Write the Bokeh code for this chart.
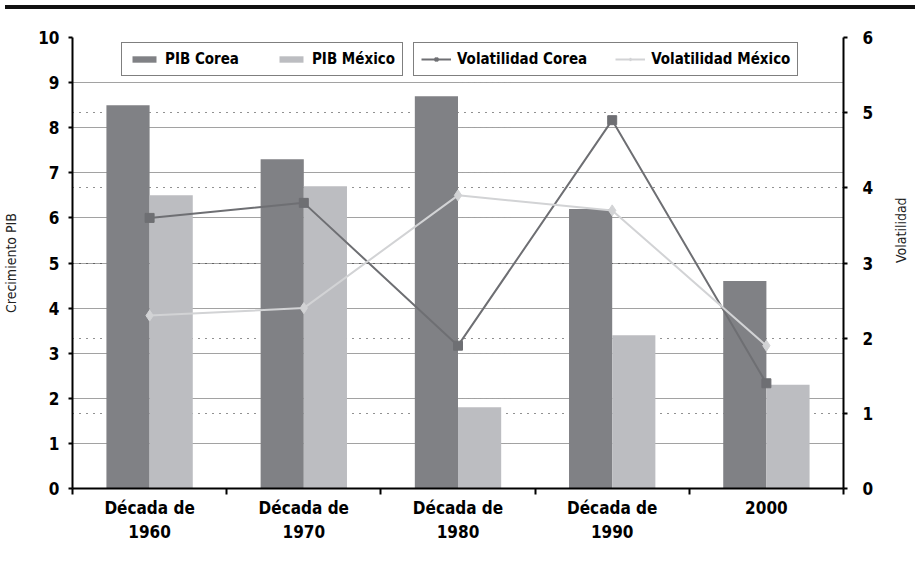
import math
from bokeh.plotting import figure
from bokeh.models import (Range1d, LinearAxis, FixedTicker, Grid, Legend, LegendItem,
                          Div, ColumnDataSource)
from bokeh.layouts import column
from bokeh.embed import file_html
from bokeh.resources import INLINE

# ---- data ----
categories = ["Década de\n1960", "Década de\n1970", "Década de\n1980", "Década de\n1990", "2000"]
pib_corea = [8.5, 7.3, 8.7, 6.2, 4.6]
pib_mexico = [6.5, 6.7, 1.8, 3.4, 2.3]
vol_corea = [3.6, 3.8, 1.9, 4.9, 1.4]
vol_mexico = [2.3, 2.4, 3.9, 3.7, 1.9]
left_ticks = list(range(0, 11))
right_ticks = list(range(0, 7))

FONT = "DejaVu Sans Condensed, Liberation Sans, sans-serif"
C_KOR_BAR = "#808185"
C_MEX_BAR = "#bcbdc1"
C_KOR_LINE = "#6e6f73"
C_MEX_LINE = "#d2d3d5"

n = len(categories)
idx = list(range(n))
bw = 0.28
FW, FH = 771, 451

src = ColumnDataSource(dict(
    x=idx,
    x_kor=[i - bw / 2 for i in idx],
    x_mex=[i + bw / 2 for i in idx],
    pib_corea=pib_corea, pib_mexico=pib_mexico,
    vol_corea=vol_corea, vol_mexico=vol_mexico,
))

p = figure(frame_width=FW, frame_height=FH, x_range=Range1d(-0.5, n - 0.5), y_range=Range1d(0, 10),
           output_backend="svg", toolbar_location=None,
           min_border_left=67, min_border_right=72, min_border_top=23, min_border_bottom=62)
p.outline_line_color = None
p.background_fill_color = "white"
p.extra_y_ranges = {"vol": Range1d(0, 6)}

# grids
p.xgrid.visible = False
p.ygrid.ticker = FixedTicker(ticks=left_ticks)
p.ygrid.grid_line_color = "#444444"
p.ygrid.grid_line_dash = "1 1"
p.ygrid.grid_line_width = 1
g2 = Grid(dimension=1, ticker=FixedTicker(ticks=right_ticks), y_range_name="vol",
          grid_line_color="#222222", grid_line_dash="1 6", grid_line_width=1)
p.add_layout(g2)

# bars
r_bk = p.vbar(x="x_kor", top="pib_corea", width=bw, source=src, fill_color=C_KOR_BAR, line_color=None)
r_bm = p.vbar(x="x_mex", top="pib_mexico", width=bw, source=src, fill_color=C_MEX_BAR, line_color=None)

# lines
r_lk = p.line(x="x", y="vol_corea", source=src, y_range_name="vol", line_color=C_KOR_LINE, line_width=2)
r_sk = p.scatter(x="x", y="vol_corea", source=src, y_range_name="vol", marker="square", size=9,
                 fill_color=C_KOR_LINE, line_color=C_KOR_LINE)
r_lm = p.line(x="x", y="vol_mexico", source=src, y_range_name="vol", line_color=C_MEX_LINE, line_width=2)
r_sm = p.scatter(x="x", y="vol_mexico", source=src, y_range_name="vol", marker="diamond", size=11,
                 fill_color=C_MEX_LINE, line_color=C_MEX_LINE)

# axes
def style_axis(ax):
    ax.axis_line_color = "black"
    ax.axis_line_width = 2
    ax.major_tick_line_color = "black"
    ax.major_tick_line_width = 2
    ax.minor_tick_line_color = "black"
    ax.minor_tick_line_width = 2
    ax.major_label_text_font = FONT
    ax.major_label_text_font_style = "bold"
    ax.major_label_text_color = "black"
    ax.axis_label_text_font = FONT
    ax.axis_label_text_font_style = "normal"
    ax.axis_label_text_color = "#222222"
    ax.axis_label_text_font_size = "14px"

yl = p.yaxis[0]
yl.ticker = FixedTicker(ticks=left_ticks)
style_axis(yl)
yl.major_tick_out = 4
yl.major_tick_in = 0
yl.minor_tick_out = 0
yl.major_label_text_font_size = "17px"
yl.major_label_standoff = 9
yl.axis_label = "Crecimiento PIB"
yl.axis_label_standoff = 16

yr = LinearAxis(y_range_name="vol", ticker=FixedTicker(ticks=right_ticks))
style_axis(yr)
yr.major_tick_out = 4
yr.major_tick_in = 0
yr.minor_tick_out = 0
yr.major_label_text_font_size = "17px"
yr.major_label_standoff = 15
yr.axis_label = "Volatilidad"
yr.axis_label_standoff = 25
if "axis_label_orientation" in yr.properties():
    yr.axis_label_orientation = math.pi / 2
p.add_layout(yr, "right")

xa = p.xaxis[0]
xa.ticker = FixedTicker(ticks=idx, minor_ticks=[i - 0.5 for i in range(n + 1)])
xa.major_label_overrides = {i: c for i, c in zip(idx, categories)}
style_axis(xa)
xa.major_tick_out = 0
xa.major_tick_in = 0
xa.minor_tick_out = 6
xa.minor_tick_in = 0
xa.major_label_text_font_size = "17px"
xa.major_label_standoff = 3

# legends
def make_legend(items, loc, spacing):
    lg = Legend(items=items, orientation="horizontal", location=loc,
                border_line_color="black", border_line_width=1.5,
                background_fill_color="white", background_fill_alpha=1,
                label_text_font=FONT, label_text_font_style="bold",
                label_text_font_size="15px", label_text_color="black",
                glyph_width=30, glyph_height=8, label_standoff=6, label_height=18,
                spacing=spacing, padding=7, margin=0)
    return lg

lg1 = make_legend([LegendItem(label="PIB Corea", renderers=[r_bk]),
                   LegendItem(label="PIB México", renderers=[r_bm])], (49, 412), 37)
lg2 = make_legend([LegendItem(label="Volatilidad Corea", renderers=[r_lk, r_sk]),
                   LegendItem(label="Volatilidad México", renderers=[r_lm, r_sm])], (341, 412), 28)
p.add_layout(lg1)
p.add_layout(lg2)

top_rule = Div(text="", width=910, height=4, styles={"background-color": "#111111"})
layout = column(top_rule, p)

open("out.html", "w").write(file_html(layout, INLINE))
